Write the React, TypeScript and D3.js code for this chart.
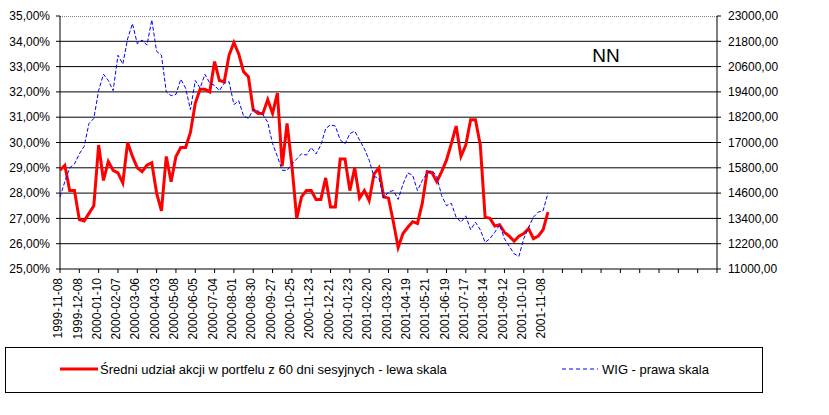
import React from "react";
import * as d3 from "d3";

// session labels, one every 20 sessions
const DATES = [
  "1999-11-08", "1999-12-08", "2000-01-10", "2000-02-07", "2000-03-06", "2000-04-03",
  "2000-05-08", "2000-06-05", "2000-07-04", "2000-08-01", "2000-08-30", "2000-09-27",
  "2000-10-25", "2000-11-23", "2000-12-21", "2001-01-23", "2001-02-20", "2001-03-20",
  "2001-04-19", "2001-05-21", "2001-06-19", "2001-07-17", "2001-08-14", "2001-09-12",
  "2001-10-10", "2001-11-08",
];

// the category axis keeps going past the data (Excel reserved room)
const SESSIONS = 680;
const LABEL_EVERY = 20;
// series every 5 sessions
const STEP = 5;

// average share of equities in the portfolio over 60 sessions (%), left scale
const SHARE = [
  28.9, 29.1, 28.1, 28.1, 26.95, 26.9, 27.2, 27.5, 29.9, 28.5,
  29.25, 28.9, 28.8, 28.4, 30.0, 29.45, 29.0, 28.85, 29.1, 29.2,
  28.0, 27.3, 29.45, 28.45, 29.45, 29.8, 29.8, 30.4, 31.55, 32.1,
  32.1, 32.0, 33.2, 32.45, 32.4, 33.45, 33.95, 33.5, 32.8, 32.6,
  31.3, 31.15, 31.15, 31.7, 31.15, 31.95, 29.07, 30.75, 29.1, 27.0,
  27.85, 28.1, 28.1, 27.75, 27.75, 28.6, 27.45, 27.45, 29.35, 29.35,
  28.1, 29.0, 27.8, 28.1, 27.7, 28.75, 29.0, 27.85, 27.8, 26.87,
  25.85, 26.4, 26.65, 26.87, 26.8, 27.6, 28.85, 28.8, 28.45, 28.85,
  29.3, 29.95, 30.65, 29.45, 29.9, 30.9, 30.9, 29.9, 27.05, 27.0,
  26.7, 26.75, 26.45, 26.3, 26.1, 26.3, 26.4, 26.6, 26.2, 26.3,
  26.55, 27.25,
];

// WIG index, right scale
const WIG = [
  14420, 15140, 15800, 15980, 16460, 16820, 17900, 18140, 19460, 20240,
  19940, 19460, 21140, 20720, 21920, 22640, 21680, 21860, 21620, 22820,
  21320, 21140, 19400, 19220, 19280, 20000, 19580, 18560, 19940, 19580,
  20240, 19820, 19700, 19460, 19820, 19880, 18800, 18980, 18260, 18140,
  18560, 18500, 18320, 17960, 16940, 16340, 15680, 15680, 15980, 16220,
  16460, 16400, 16760, 16460, 16880, 17660, 17840, 17780, 17120, 16940,
  17420, 17540, 17120, 16700, 16160, 15380, 15320, 14360, 14660, 14720,
  14300, 15020, 15560, 15440, 14720, 15200, 15560, 15680, 15380, 14480,
  14000, 14120, 13460, 13220, 13520, 12860, 13220, 12860, 12260, 12440,
  12740, 13100, 12440, 12080, 11720, 11600, 12440, 12980, 13460, 13700,
  13760, 14600,
];

const LEFT_TICKS = [25, 26, 27, 28, 29, 30, 31, 32, 33, 34, 35];
const RIGHT_TICKS = [11000, 12200, 13400, 14600, 15800, 17000, 18200, 19400, 20600, 21800, 23000];

const SHARE_LABEL = "Średni udział akcji w portfelu z 60 dni sesyjnych - lewa skala";
const WIG_LABEL = "WIG - prawa skala";

const W = 829;
const H = 415;
const FONT = "'Liberation Sans', Arial, sans-serif";

export default function App() {
  const plot = { left: 60, right: 717, top: 16, bottom: 269 };

  const x = d3.scaleLinear().domain([0, SESSIONS]).range([plot.left, plot.right]);
  const yL = d3.scaleLinear().domain([25, 35]).range([plot.bottom, plot.top]);
  const yR = d3.scaleLinear().domain([11000, 23000]).range([plot.bottom, plot.top]);

  const fmt = (v: number) => v.toFixed(2).replace(".", ",");

  const shareLine = d3
    .line<number>()
    .x((_, i) => x(i * STEP))
    .y(d => yL(d));
  const wigLine = d3
    .line<number>()
    .x((_, i) => x(i * STEP))
    .y(d => yR(d));

  const ticks = d3.range(0, SESSIONS + 1, LABEL_EVERY);

  return (
    <svg
      width={W}
      height={H}
      style={{ position: "absolute", left: 0, top: 0, background: "#fff" }}
      fontFamily={FONT}
    >
      {/* grid */}
      {LEFT_TICKS.slice(1, -1).map(t => (
        <line key={t} x1={plot.left} x2={plot.right} y1={yL(t)} y2={yL(t)} stroke="#000" />
      ))}
      <line
        x1={plot.left}
        x2={plot.right}
        y1={plot.top + 0.5}
        y2={plot.top + 0.5}
        stroke="#808080"
        strokeDasharray="1,1"
      />

      {/* left axis */}
      <line x1={plot.left} x2={plot.left} y1={plot.top} y2={plot.bottom} stroke="#000" />
      {LEFT_TICKS.map(t => (
        <g key={t} transform={`translate(0,${yL(t)})`}>
          <line x1={plot.left - 4} x2={plot.left} stroke="#000" />
          <text x={plot.left - 10} dy="0.35em" textAnchor="end" fontSize={12}>
            {fmt(t) + "%"}
          </text>
        </g>
      ))}

      {/* right axis */}
      <line x1={plot.right} x2={plot.right} y1={plot.top} y2={plot.bottom} stroke="#000" />
      {RIGHT_TICKS.map(t => (
        <g key={t} transform={`translate(0,${yR(t)})`}>
          <line x1={plot.right} x2={plot.right + 4} stroke="#000" />
          <text x={plot.right + 11} dy="0.35em" textAnchor="start" fontSize={12}>
            {fmt(t)}
          </text>
        </g>
      ))}

      {/* category axis */}
      <line x1={plot.left} x2={plot.right} y1={plot.bottom} y2={plot.bottom} stroke="#000" />
      {ticks.map((t, i) => (
        <g key={t} transform={`translate(${x(t)},${plot.bottom})`}>
          <line y1={0} y2={4} stroke="#000" />
          {DATES[i] && (
            <text
              transform="translate(-2,9) rotate(-90)"
              dy="0.35em"
              textAnchor="end"
              fontSize={12}
            >
              {DATES[i]}
            </text>
          )}
        </g>
      ))}

      {/* series */}
      <path d={shareLine(SHARE) || ""} fill="none" stroke="#ff0000" strokeWidth={3} />
      <path
        d={wigLine(WIG) || ""}
        fill="none"
        stroke="#0000ff"
        strokeWidth={1}
        strokeDasharray="4,2"
      />

      <text x={606} y={62} textAnchor="middle" fontSize={19}>
        NN
      </text>

      {/* legend */}
      <rect x={5.5} y={347.5} width={757} height={45} fill="none" stroke="#000" />
      <line x1={60} x2={98} y1={369} y2={369} stroke="#ff0000" strokeWidth={3} />
      <text x={100} y={369} dy="0.35em" fontSize={13}>
        {SHARE_LABEL}
      </text>
      <line x1={562} x2={598} y1={369} y2={369} stroke="#0000ff" strokeDasharray="4,3" />
      <text x={602} y={369} dy="0.35em" fontSize={13}>
        {WIG_LABEL}
      </text>
    </svg>
  );
}
